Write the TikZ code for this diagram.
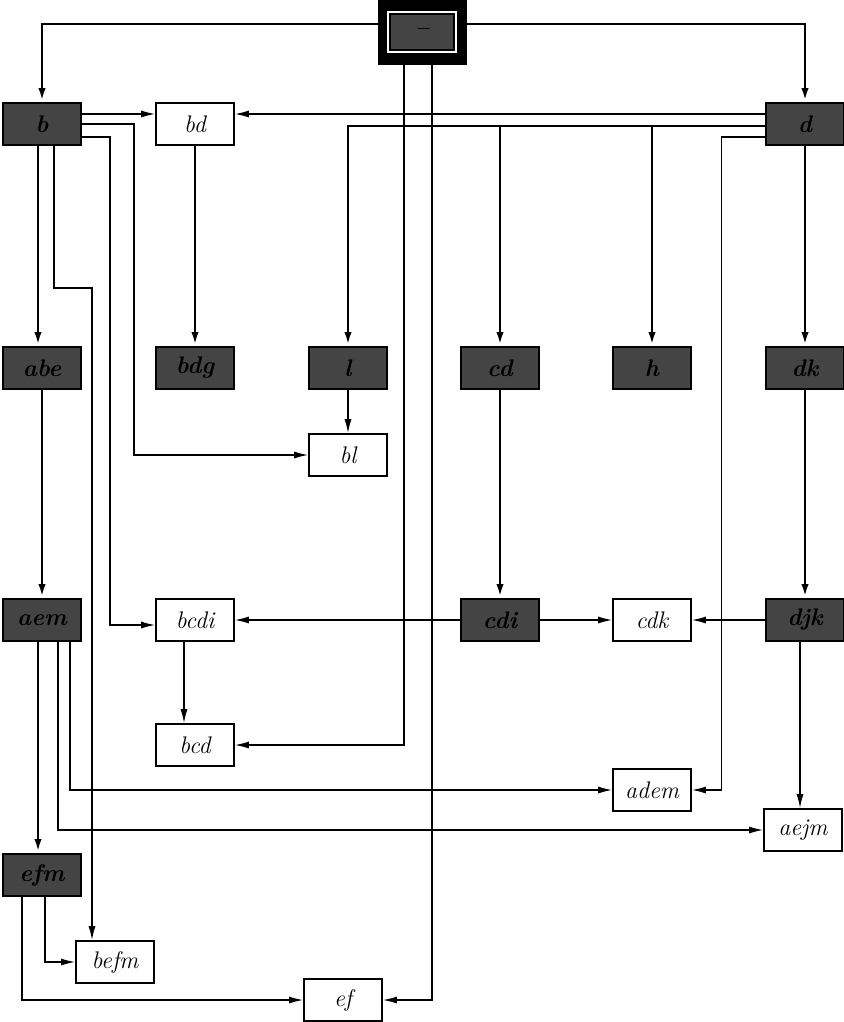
\documentclass[tikz,border=0pt]{standalone}
\usetikzlibrary{arrows.meta}
\definecolor{darkgrey}{RGB}{68,68,68}

\tikzset{
  box/.style={draw,thick,minimum width=39pt,minimum height=21pt,inner sep=0pt,font=\large\itshape},
  darkbox/.style={box,fill=darkgrey,font=\large\bfseries\itshape},
  lightbox/.style={box,fill=white},
  thin/.style={line width=0.7pt,-{Latex[length=7pt,width=3.5pt]}},
  heavy/.style={line width=1.4pt,-{Latex[length=7pt,width=3.5pt]}},
}

\begin{document}
\begin{tikzpicture}[x=0.5pt,y=-0.5pt]
\useasboundingbox (0,0) rectangle (844,1022);

\node[draw,fill=black,minimum width=44pt,minimum height=32pt] (topframe) at (422,32) {};
\node[darkbox,draw=black,double=white,double distance=1pt,minimum width=34pt,minimum height=20pt] (top) at (422,32) {--};

\node[darkbox] (b) at (42,124) {b};
\node[lightbox] (bd) at (195,124) {bd};
\node[darkbox] (d) at (805,124) {d};

\node[darkbox] (abe) at (42,368) {abe};
\node[darkbox] (bdg) at (195,368) {bdg};
\node[darkbox] (l) at (348,368) {l};
\node[darkbox] (cd) at (500,368) {cd};
\node[darkbox] (h) at (652,368) {h};
\node[darkbox] (dk) at (805,368) {dk};
\node[lightbox] (bl) at (348,455) {bl};

\node[darkbox] (aem) at (42,620) {aem};
\node[lightbox] (bcdi) at (195,620) {bcdi};
\node[darkbox] (cdi) at (500,620) {cdi};
\node[lightbox] (cdk) at (652,620) {cdk};
\node[darkbox] (djk) at (805,620) {djk};
\node[lightbox] (bcd) at (195,745) {bcd};
\node[lightbox] (adem) at (652,790) {adem};
\node[lightbox] (aejm) at (803,830) {aejm};

\node[darkbox] (efm) at (42,875) {efm};
\node[lightbox] (befm) at (115,962) {befm};
\node[lightbox] (ef) at (343,1000) {ef};

% from the top
\draw[heavy] ([yshift=4pt]topframe.west) -| (b.north);
\draw[heavy] ([yshift=4pt]topframe.east) -| (d.north);
\draw[thin] ([xshift=-9pt]topframe.south) |- (bcd.east);
\draw[thin] ([xshift=5pt]topframe.south) |- (ef.east);

% b
\draw[thin] ([yshift=5pt]b.east) -- ([yshift=5pt]bd.west);
\draw[thin] (b.east) -- ++(52,0) |- (bl.west);
\draw[thin] ([yshift=-6.5pt]b.east) -- ++(28,0) |- ([yshift=-2.5pt]bcdi.west);
\draw[thin] ([xshift=6pt]b.south) -- ++(0,142) -| ([xshift=-11.5pt]befm.north);
\draw[heavy] ([xshift=-2pt]b.south) -- ([xshift=-2pt]abe.north);
\draw[heavy] (bd) -- (bdg);

% d
\draw[thin] ([yshift=5pt]d.west) -- ([yshift=5pt]bd.east);
\coordinate (dbus) at ([yshift=-1pt]d.west);
\draw[heavy] (dbus) -| (l.north);
\draw[heavy] (dbus -| cd.north) -- (cd.north);
\draw[heavy] (dbus -| h.north) -- (h.north);
\draw[thin] ([yshift=-6.5pt]d.west) -- ++(-44,0) |- (adem.east);
\draw[heavy] (d) -- (dk);

\draw[thin] (l) -- (bl);
\draw[heavy] (cd) -- (cdi);
\draw[heavy] (dk) -- (djk);
\draw[heavy] (abe) -- (aem);

% middle row
\draw[thin] (cdi) -- (bcdi);
\draw[thin] (cdi) -- (cdk);
\draw[thin] (djk) -- (cdk);
\draw[thin] ([xshift=-2.5pt]djk.south) -- ([xshift=-1.5pt]aejm.north);
\draw[thin] ([xshift=-5.5pt]bcdi.south) -- ([xshift=-5.5pt]bcd.north);

% aem
\draw[thin] ([xshift=14pt]aem.south) |- (adem.west);
\draw[thin] ([xshift=8pt]aem.south) |- (aejm.west);
\draw[heavy] ([xshift=-2pt]aem.south) -- ([xshift=-2pt]efm.north);

% efm
\draw[thin] ([xshift=1.5pt]efm.south) |- (befm.west);
\draw[thin] ([xshift=-10pt]efm.south) |- (ef.west);
\end{tikzpicture}
\end{document}
